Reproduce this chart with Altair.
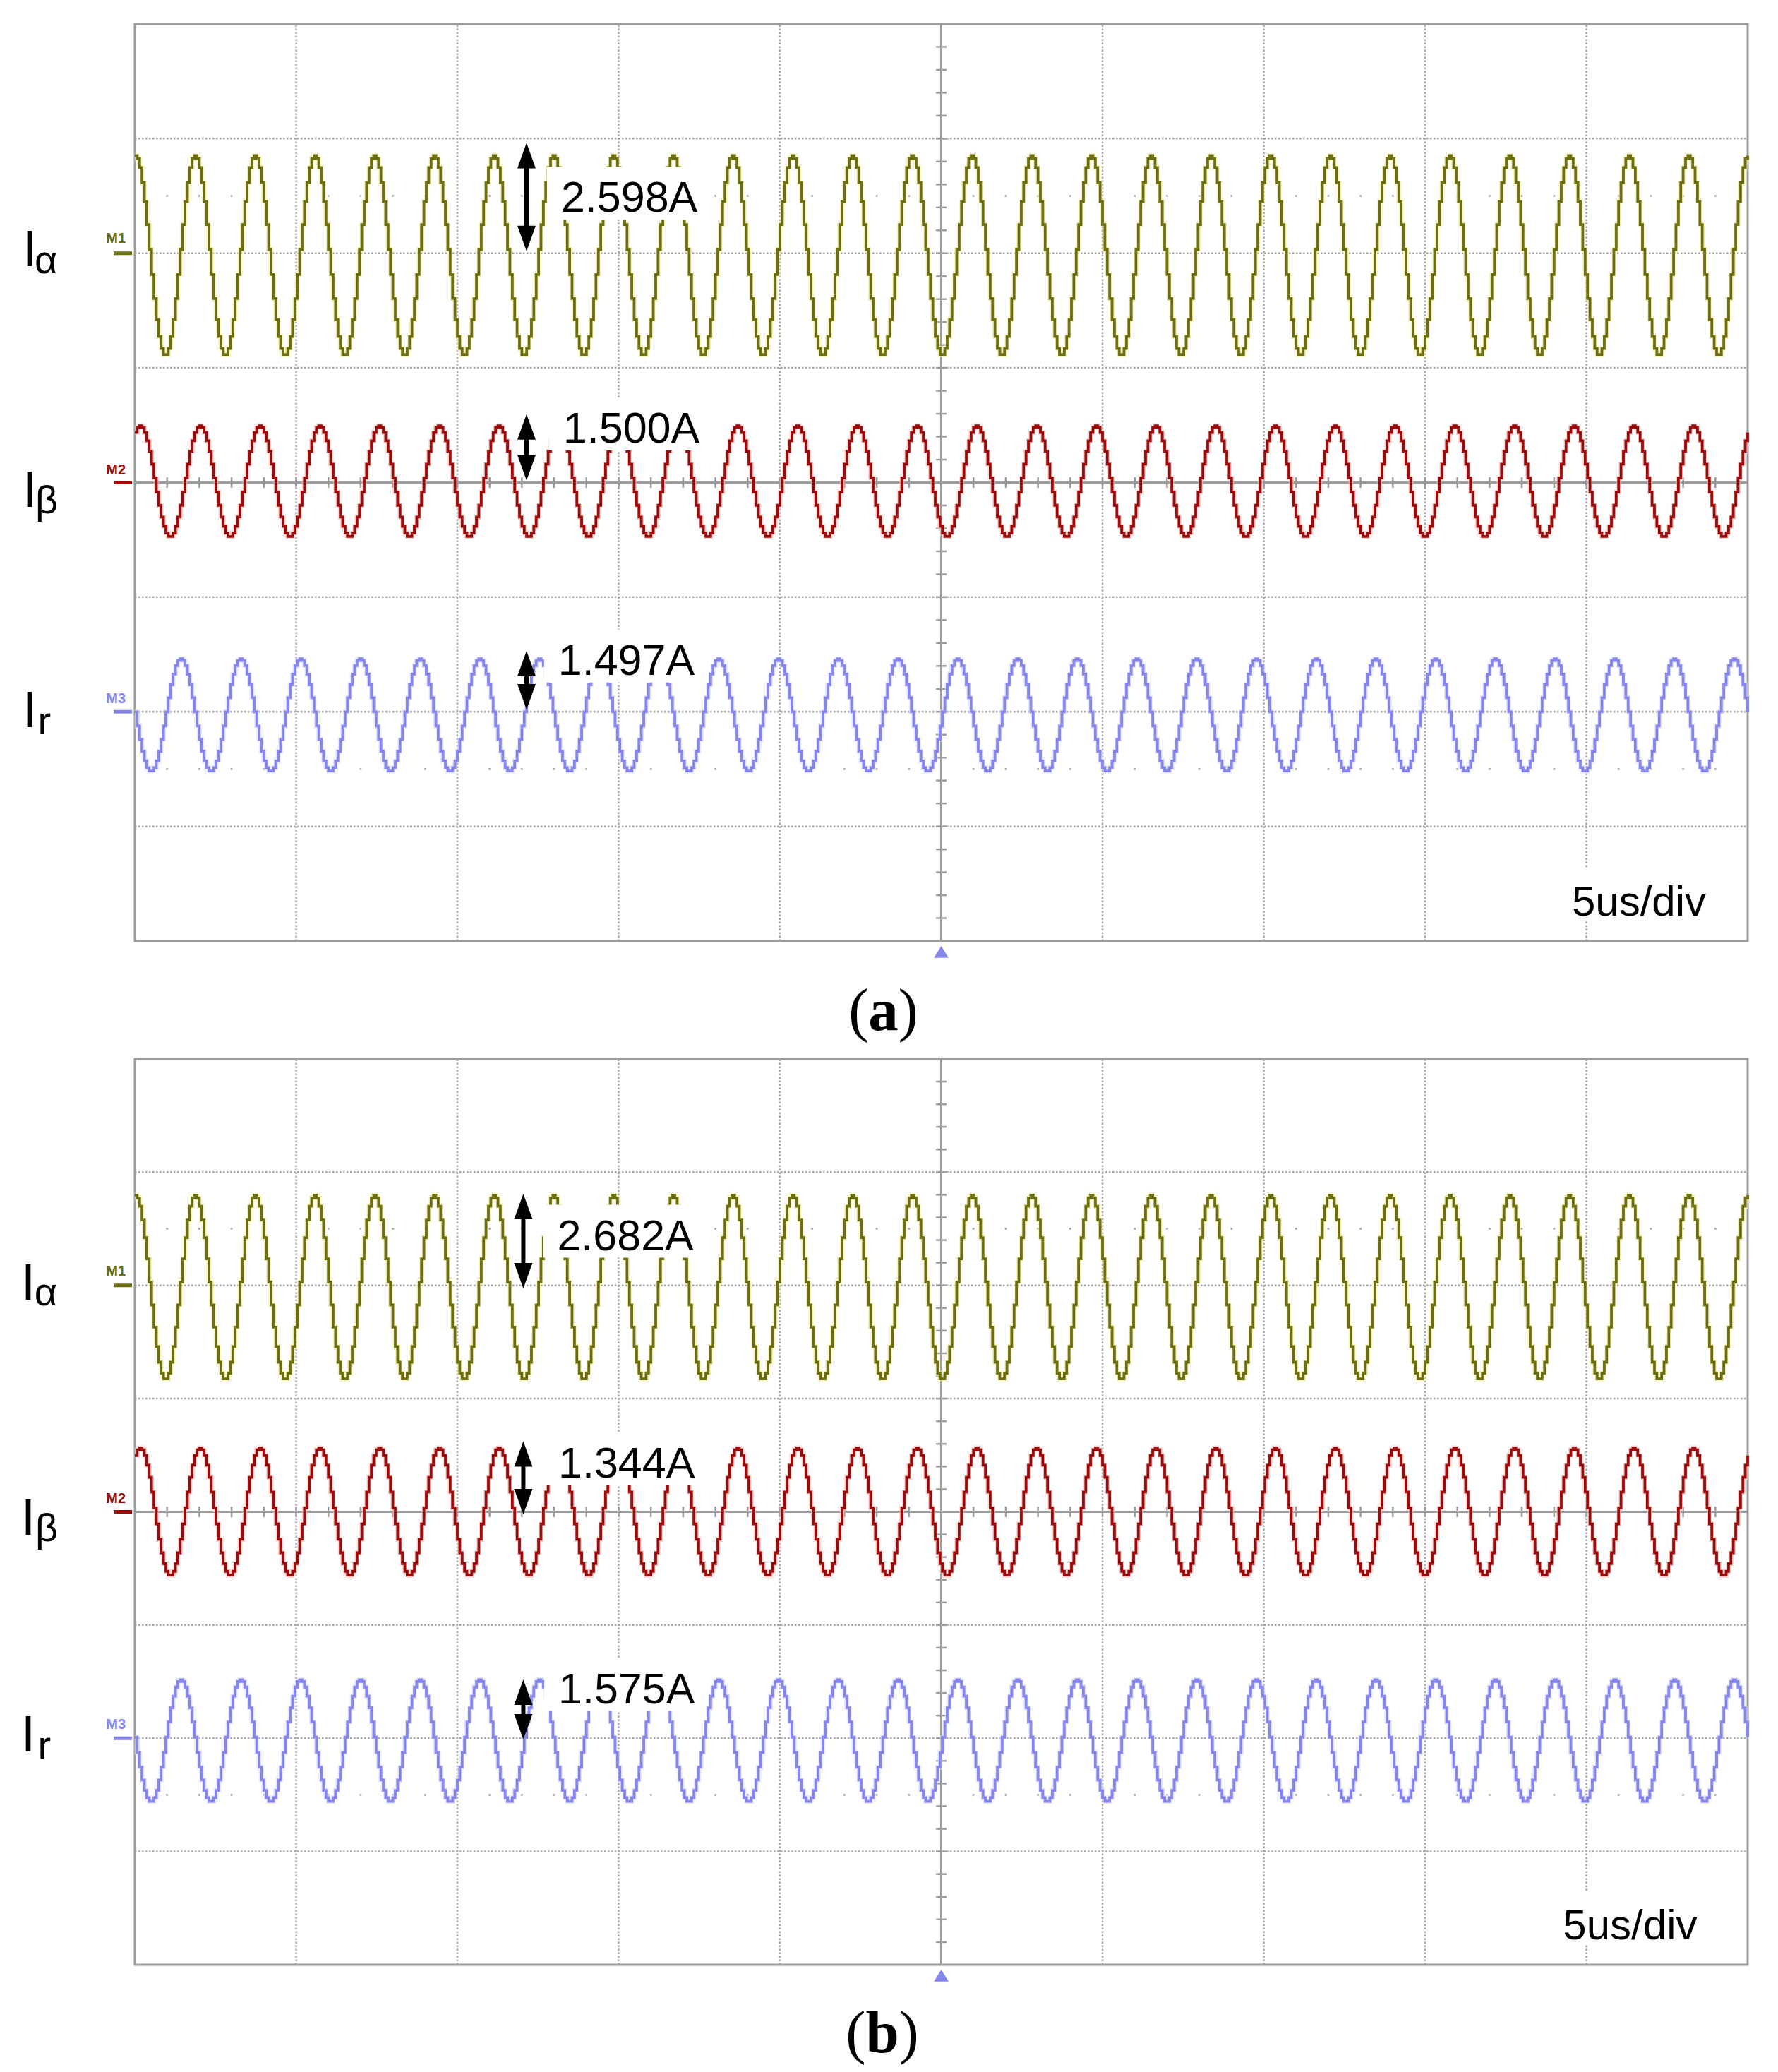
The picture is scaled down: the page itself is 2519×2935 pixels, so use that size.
import altair as alt
import pandas as pd

# ---------------- values ----------------
# one sampled cycle of the stepped (sample-and-hold) waveform, fraction of amplitude, starting at a crest
cycle_shape = [1.00, 0.97, 0.88, 0.73, 0.54, 0.31, 0.06, -0.19, -0.43, -0.64, -0.81, -0.93,
               -0.99, -0.99, -0.93, -0.81, -0.64, -0.43, -0.19, 0.06, 0.31, 0.54, 0.73, 0.88, 0.97]
cycles_on_screen = 27
trace_names = ["Iα", "Iβ", "Ir"]
marker_names = ["M1", "M2", "M3"]
marker_levels = [6, 4, 2]                 # screen division of each channel marker
trace_colors = ["#6d6d12", "#9c0a0a", "#8585ee"]
halo_colors = ["#f3eea0", "#f3c6c6", "#dedefa"]
sample_shift = [0, 2, 19]                 # samples by which each trace is delayed
# panel (a): trace centre (div) and amplitude (div)
centre_a = [5.98, 4.01, 1.97]
amp_a = [0.872, 0.485, 0.492]
# panel (b)
centre_b = [5.982, 4.00, 1.977]
amp_b = [0.815, 0.565, 0.54]
readings_a = ["2.598A", "1.500A", "1.497A"]
readings_b = ["2.682A", "1.344A", "1.575A"]
label_main = ["I", "I", "I"]
label_sub = ["α", "β", "r"]
time_base = "5us/div"
captions = ["a", "b"]
h_divs = 10
v_divs = 8

# ---------------- layout ----------------
SANS = "Liberation Sans"
SERIF = "Liberation Serif"
GRID = "#a6a6a6"
AXIS = "#9c9c9c"
PPX = 228.5           # px per horizontal division
LEFT_PX = 191
W = 2503
XD = [(8 - LEFT_PX) / PPX, (8 + W - LEFT_PX) / PPX]

layout_a = dict(height=1480, ydom=[-0.95458, 8.16012], ppd=162.375,
                read_x=[2.643, 2.656, 2.625], read_base=[6.359, 4.348, 2.324],
                arrow_x=2.429, arrow_top=[6.962, 4.596, 2.531], arrow_bot=[6.019, 4.018, 2.020],
                I_x=-0.696, I_base=[5.888, 3.788, 1.866],
                sub_x=[-0.621, -0.617, -0.602], sub_base=[5.826, 3.732, 1.804],
                m_base=[6.09, 4.07, 2.075], tb_x=8.91, tb_base=0.224,
                cap_x=4.641, cap_base=-0.776, cap_half=21, trig_y=-0.043)
layout_b = dict(height=1439, ydom=[-0.89790, 8.07482], ppd=160.375,
                read_x=[2.619, 2.626, 2.626], read_base=[6.313, 4.302, 2.310],
                arrow_x=2.409, arrow_top=[6.809, 4.624, 2.519], arrow_bot=[5.974, 3.978, 1.989],
                I_x=-0.705, I_base=[5.876, 3.797, 1.883],
                sub_x=[-0.622, -0.617, -0.602], sub_base=[5.821, 3.741, 1.821],
                m_base=[6.086, 4.077, 2.085], tb_x=8.855, tb_base=0.226,
                cap_x=4.635, cap_base=-0.773, cap_half=23.5, trig_y=-0.044)


def make_panel(centres, amps, readings, caption, L):
    xs = alt.Scale(domain=XD, nice=False, zero=False)
    ys = alt.Scale(domain=L["ydom"], nice=False, zero=False)
    ppd = L["ppd"]

    def X(f):
        return alt.X(f, type="quantitative", scale=xs, axis=None)

    def Y(f):
        return alt.Y(f, type="quantitative", scale=ys, axis=None)

    layers = []

    # dotted graticule
    vgrid = pd.DataFrame({"x": [i for i in range(1, h_divs) if i != h_divs // 2]})
    vgrid["y0"] = 0
    vgrid["y1"] = v_divs
    layers.append(alt.Chart(vgrid).mark_rule(color=GRID, strokeWidth=2.5, strokeDash=[2.5, 2.5])
                  .encode(x=X("x"), y=Y("y0"), y2=alt.Y2("y1")))
    hgrid = pd.DataFrame({"y": [j for j in range(1, v_divs) if j != v_divs // 2]})
    hgrid["x0"] = 0
    hgrid["x1"] = h_divs
    layers.append(alt.Chart(hgrid).mark_rule(color=GRID, strokeWidth=2.5, strokeDash=[2.5, 2.5])
                  .encode(y=Y("y"), x=X("x0"), x2=alt.X2("x1")))

    # rows of sub-division dots
    dots = pd.DataFrame([{"x": k / 5, "y": yy} for yy in (1.5, 6.5)
                         for k in range(1, h_divs * 5) if k % 5 != 0])
    layers.append(alt.Chart(dots).mark_square(size=7, color=GRID, opacity=1)
                  .encode(x=X("x"), y=Y("y")))

    # centre axes with sub-division ticks
    layers.append(alt.Chart(pd.DataFrame({"x": [h_divs / 2], "y0": [0], "y1": [v_divs]}))
                  .mark_rule(color=AXIS, strokeWidth=3).encode(x=X("x"), y=Y("y0"), y2=alt.Y2("y1")))
    layers.append(alt.Chart(pd.DataFrame({"y": [v_divs / 2], "x0": [0], "x1": [h_divs]}))
                  .mark_rule(color=AXIS, strokeWidth=3).encode(y=Y("y"), x=X("x0"), x2=alt.X2("x1")))
    tv = pd.DataFrame({"y": [k / 5 for k in range(1, v_divs * 5)]})
    tv["x"] = h_divs / 2
    layers.append(alt.Chart(tv).mark_tick(orient="horizontal", size=15, thickness=2.5, color=AXIS, opacity=1)
                  .encode(x=X("x"), y=Y("y")))
    th = pd.DataFrame({"x": [k / 5 for k in range(1, h_divs * 5)]})
    th["y"] = v_divs / 2
    layers.append(alt.Chart(th).mark_tick(orient="vertical", size=15, thickness=2.5, color=AXIS, opacity=1)
                  .encode(x=X("x"), y=Y("y")))

    # screen border
    layers.append(alt.Chart(pd.DataFrame({"x0": [0], "x1": [h_divs], "y0": [0], "y1": [v_divs]}))
                  .mark_rect(fillOpacity=0, stroke=AXIS, strokeWidth=3)
                  .encode(x=X("x0"), x2=alt.X2("x1"), y=Y("y0"), y2=alt.Y2("y1")))

    # traces
    n = cycles_on_screen * len(cycle_shape)
    rows = []
    for i in range(3):
        for k in range(n + 1):
            lvl = cycle_shape[(k - sample_shift[i]) % len(cycle_shape)]
            rows.append({"t": h_divs * k / n, "v": centres[i] + amps[i] * lvl,
                         "trace": trace_names[i], "col": trace_colors[i], "halo": halo_colors[i]})
    tr = pd.DataFrame(rows)
    layers.append(alt.Chart(tr).mark_line(interpolate="step-after", strokeWidth=7, opacity=0.6)
                  .encode(x=X("t"), y=Y("v"), detail="trace:N", color=alt.Color("halo:N", scale=None)))
    layers.append(alt.Chart(tr).mark_line(interpolate="step-after", strokeWidth=3.8)
                  .encode(x=X("t"), y=Y("v"), detail="trace:N", color=alt.Color("col:N", scale=None)))

    # white boxes behind the readings and the time base
    boxes = pd.DataFrame({
        "x0": [rx - 20 / PPX for rx in L["read_x"]] + [L["tb_x"] - 15 / PPX],
        "x1": [rx + 205 / PPX for rx in L["read_x"]] + [L["tb_x"] + 200 / PPX],
        "y0": [b - 11 / ppd for b in L["read_base"]] + [L["tb_base"] - 7 / ppd],
        "y1": [b + 64 / ppd for b in L["read_base"]] + [L["tb_base"] + 67 / ppd],
    })
    layers.append(alt.Chart(boxes).mark_rect(color="white")
                  .encode(x=X("x0"), x2=alt.X2("x1"), y=Y("y0"), y2=alt.Y2("y1")))

    # readings
    rd = pd.DataFrame({"x": L["read_x"], "y": L["read_base"], "t": readings})
    layers.append(alt.Chart(rd).mark_text(align="left", baseline="alphabetic", font=SANS, fontSize=61, color="black")
                  .encode(x=X("x"), y=Y("y"), text="t:N"))

    # double arrows
    sh = pd.DataFrame({"x": [L["arrow_x"]] * 3,
                       "y0": [b + 14 / ppd for b in L["arrow_bot"]],
                       "y1": [t - 14 / ppd for t in L["arrow_top"]]})
    layers.append(alt.Chart(sh).mark_rule(color="black", strokeWidth=6)
                  .encode(x=X("x"), y=Y("y0"), y2=alt.Y2("y1")))
    up = pd.DataFrame({"x": [L["arrow_x"]] * 3, "y": L["arrow_top"]})
    dn = pd.DataFrame({"x": [L["arrow_x"]] * 3, "y": L["arrow_bot"]})
    layers.append(alt.Chart(up).mark_point(shape="M0,0L1,2.77L-1,2.77Z", size=676, filled=True,
                                           color="black", opacity=1, strokeWidth=0)
                  .encode(x=X("x"), y=Y("y")))
    layers.append(alt.Chart(dn).mark_point(shape="M0,0L1,-2.77L-1,-2.77Z", size=676, filled=True,
                                           color="black", opacity=1, strokeWidth=0)
                  .encode(x=X("x"), y=Y("y")))

    # time base
    layers.append(alt.Chart(pd.DataFrame({"x": [L["tb_x"]], "y": [L["tb_base"]], "t": [time_base]}))
                  .mark_text(align="left", baseline="alphabetic", font=SANS, fontSize=60, color="black")
                  .encode(x=X("x"), y=Y("y"), text="t:N"))

    # channel markers
    mk = pd.DataFrame({"x0": [-0.1313] * 3, "x1": [-0.0175] * 3, "y": marker_levels,
                       "col": trace_colors, "tx": [-0.178] * 3, "ty": L["m_base"], "t": marker_names})
    layers.append(alt.Chart(mk).mark_rule(strokeWidth=5)
                  .encode(x=X("x0"), x2=alt.X2("x1"), y=Y("y"), color=alt.Color("col:N", scale=None)))
    layers.append(alt.Chart(mk).mark_text(align="left", baseline="alphabetic", font=SANS, fontSize=20,
                                          fontWeight="bold")
                  .encode(x=X("tx"), y=Y("ty"), text="t:N", color=alt.Color("col:N", scale=None)))

    # channel names
    lm = pd.DataFrame({"x": [L["I_x"]] * 3, "y": L["I_base"], "t": label_main})
    layers.append(alt.Chart(lm).mark_text(align="left", baseline="alphabetic", font=SANS, fontSize=72, color="black")
                  .encode(x=X("x"), y=Y("y"), text="t:N"))
    ls = pd.DataFrame({"x": L["sub_x"], "y": L["sub_base"], "t": label_sub})
    layers.append(alt.Chart(ls).mark_text(align="left", baseline="alphabetic", font=SANS, fontSize=56, color="black")
                  .encode(x=X("x"), y=Y("y"), text="t:N"))

    # trigger marker
    layers.append(alt.Chart(pd.DataFrame({"x": [h_divs / 2], "y": [L["trig_y"]]}))
                  .mark_point(shape="M0,0L1,1.6L-1,1.6Z", size=441, filled=True, color=trace_colors[2],
                              opacity=1, strokeWidth=0)
                  .encode(x=X("x"), y=Y("y")))

    # caption
    cp = pd.DataFrame({"x": [L["cap_x"]], "y": [L["cap_base"]]})
    layers.append(alt.Chart(cp).mark_text(align="right", baseline="alphabetic", font=SERIF, fontSize=85,
                                          color="black", dx=-L["cap_half"], text="(")
                  .encode(x=X("x"), y=Y("y")))
    layers.append(alt.Chart(cp).mark_text(align="center", baseline="alphabetic", font=SERIF, fontSize=85,
                                          fontWeight="bold", color="black", text=caption)
                  .encode(x=X("x"), y=Y("y")))
    layers.append(alt.Chart(cp).mark_text(align="left", baseline="alphabetic", font=SERIF, fontSize=85,
                                          color="black", dx=L["cap_half"], text=")")
                  .encode(x=X("x"), y=Y("y")))

    return alt.layer(*layers).properties(width=W, height=L["height"])


panel_a = make_panel(centre_a, amp_a, readings_a, captions[0], layout_a)
panel_b = make_panel(centre_b, amp_b, readings_b, captions[1], layout_b)

chart = (alt.vconcat(panel_a, panel_b, spacing=0)
         .properties(padding=0, background="white")
         .configure_view(strokeWidth=0))

chart.save("out.html", embed_options={"renderer": "svg", "actions": False})
